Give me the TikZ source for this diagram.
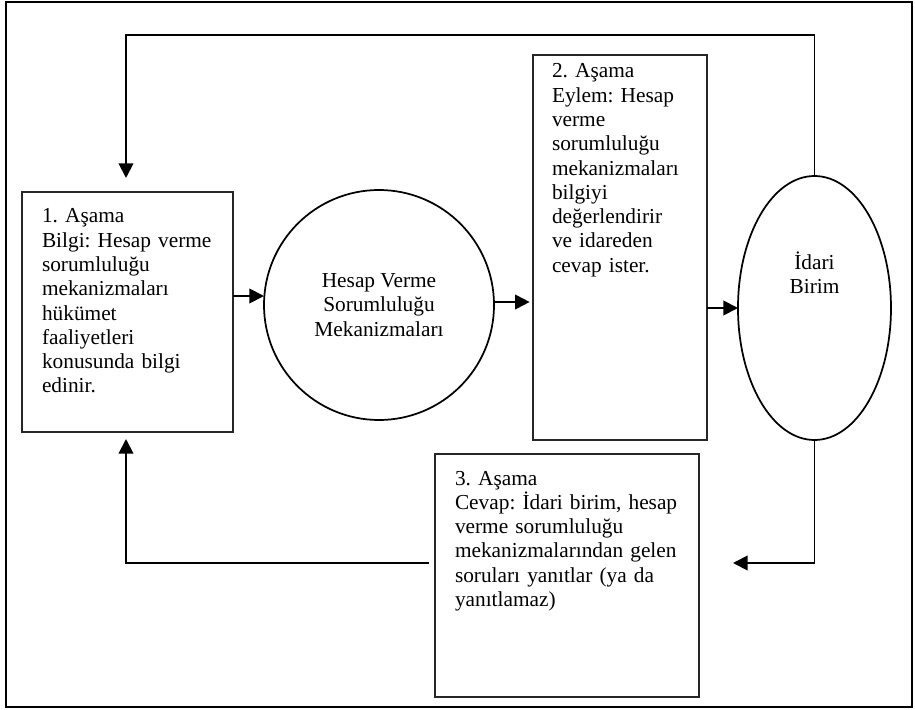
\documentclass[tikz,border=0pt]{standalone}
\usepackage{fontspec}
\setmainfont{Liberation Serif}
\usetikzlibrary{arrows.meta,shapes.geometric,calc}

\begin{document}
\frenchspacing
\begin{tikzpicture}[x=0.75pt,y=-0.75pt,
  every node/.style={inner sep=0pt, outer sep=0pt},
  body/.style={font=\fontsize{16pt}{18.2pt}\selectfont\frenchspacing},
  txt/.style={body, align=left, text width=#1, anchor=base west},
  stagebox/.style={draw=black!85, line width=0.9pt, rectangle},
  roundshape/.style={draw, line width=1.3pt},
  link/.style={draw, line width=1.4pt, -{Triangle[length=11pt,width=11pt]}}
]
\useasboundingbox (0,0) rectangle (915,710);

% outer frame
\draw[line width=1.6pt] (6,2) rectangle (912,707);

% stage 1
\node[stagebox, minimum width=158.25pt, minimum height=180pt] (b1) at (127.5,312) {};
\node[txt=150pt] (t1) at (42,223) {1. Aşama\\Bilgi: Hesap verme\\sorumluluğu\\mekanizmaları\\hükümet\\faaliyetleri\\konusunda bilgi\\edinir.};

% accountability mechanisms
\node[roundshape, circle, minimum size=172.5pt, align=center, body] (circ) at (379,305) {Hesap Verme\\Sorumluluğu\\Mekanizmaları};

% stage 2
\node[stagebox, minimum width=130.5pt, minimum height=288.75pt] (b2) at (620,247.5) {};
\node[txt=125pt] (t2) at (552,78) {2. Aşama\\Eylem: Hesap\\verme\\sorumluluğu\\mekanizmaları\\bilgiyi\\değerlendirir\\ve idareden\\cevap ister.};

% administrative unit
\node[roundshape, ellipse, minimum width=114.75pt, minimum height=198pt] (ell) at (814.5,308) {};
\node[txt=80pt, align=center, anchor=base] (et) at (814.5,269) {İdari\\Birim};

% stage 3
\node[stagebox, minimum width=198pt, minimum height=182.25pt] (b3) at (567,575.5) {};
\node[txt=190pt] (t3) at (455,485) {3. Aşama\\Cevap: İdari birim, hesap\\verme sorumluluğu\\mekanizmalarından gelen\\soruları yanıtlar (ya da\\yanıtlamaz)};

% connectors
\coordinate (tl) at (126,35);
\coordinate (a1) at (0,296);
\coordinate (a2) at (0,302);
\coordinate (rend) at (733,563);
\coordinate (bl) at (429,563);

\draw[link, shorten >=10.5pt] (ell.north) |- (tl) -- (tl |- b1.north);
\draw[link] (b1.east |- a1) -- (circ.west |- a1);
\draw[link, shorten >=2.5pt] (circ.east |- a2) -- (b2.west |- a2);
\draw[link] (b2.east |- ell.west) -- (ell.west);
\draw[link] (ell.south) |- (rend);
\draw[link, shorten >=5.25pt] (bl) -| (b1.south -| tl);
\end{tikzpicture}
\end{document}
